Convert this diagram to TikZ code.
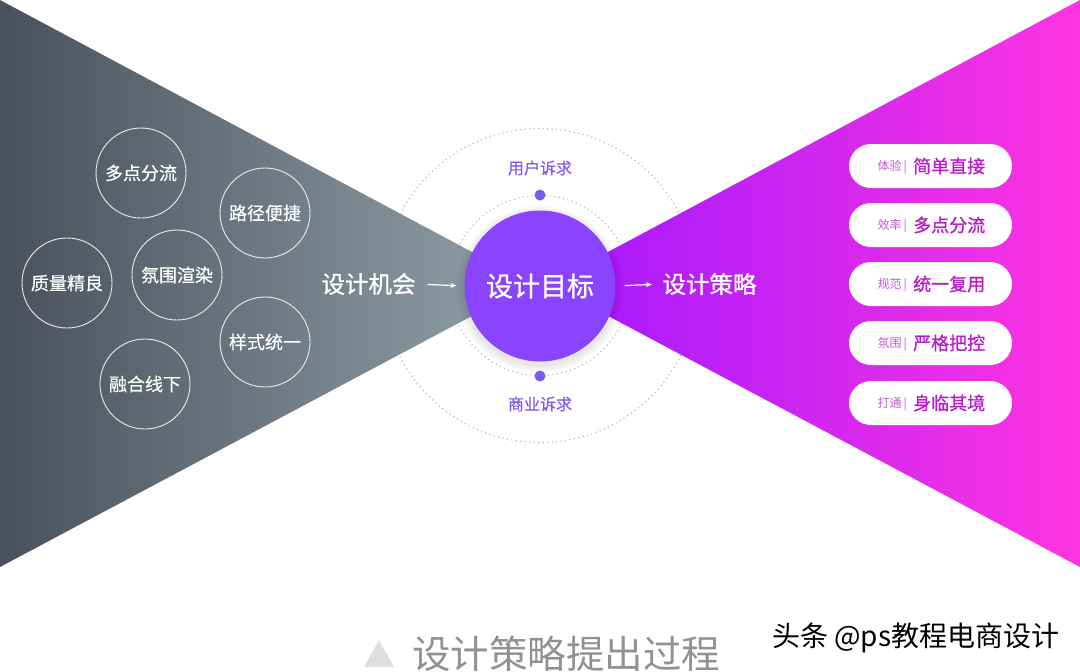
\documentclass[tikz,border=0pt]{standalone}
\usepackage{fontspec}
\setmainfont{Noto Sans CJK SC}
\newfontfamily\medf[FakeBold=0.35]{Noto Sans CJK SC}
\newfontfamily\headf[FakeBold=0.9]{Noto Sans CJK SC}
\usetikzlibrary{arrows.meta}
\definecolor{purp}{HTML}{8A44FF}
\definecolor{dotc}{HTML}{7E5BEF}
\definecolor{ringc}{HTML}{B4B4C8}
\definecolor{magb}{HTML}{B81CCA}
\definecolor{mags}{HTML}{C25AD2}
\definecolor{grayl}{RGB}{74,80,92}
\definecolor{grayr}{RGB}{146,162,170}
\definecolor{magl}{RGB}{160,24,255}
\definecolor{magr}{RGB}{255,52,224}
\tikzset{
  idea/.style={circle,draw=white!85!gray,line width=0.9pt,minimum size=90pt,inner sep=0pt,text=white,font=\fontsize{18}{18}\selectfont\medf},
  ring/.style={draw=ringc,line width=1.1pt,dash pattern=on 1.2pt off 3.3pt},
  pill/.style={rounded corners=22pt,fill=white,minimum width=163pt,minimum height=44pt,inner sep=0pt},
  head/.style={text=white,font=\fontsize{23.5}{24}\selectfont\headf,inner sep=0pt},
  ask/.style={text=dotc,font=\fontsize{16}{16}\selectfont\medf,inner sep=0pt},
  dotn/.style={circle,fill=dotc,minimum size=11pt,inner sep=0pt},
  arr/.style={draw=white,line width=1.2pt,-{Stealth[length=6pt,width=5pt]}},
  small/.style={text=mags,font=\fontsize{12}{12}\selectfont,inner sep=0pt,anchor=east},
  big/.style={text=magb,font=\fontsize{18}{18}\selectfont\headf,inner sep=0pt,anchor=west}
}
\newcommand{\pillrow}[4]{%
  \node[pill] (#1) at (930.5,#2) {};
  \node[small] (#1s) at (907,#2+0.8) {#3\,|};
  \node[big] (#1b) at (913,#2) {#4};
}
\begin{document}
\begin{tikzpicture}[x=1pt,y=-1pt]
\useasboundingbox (0,0) rectangle (1080,672);
\fill[white] (0,0) rectangle (1080,672);
% rings behind the triangles
\node[circle,ring,minimum size=314pt,inner sep=0pt] (outer) at (540,285.5) {};
\node[circle,ring,minimum size=180pt,inner sep=0pt] (inner) at (540,285.5) {};
% triangles
\shade[left color=grayl,right color=grayr] (0,0) -- (532,284) -- (0,567) -- cycle;
\shade[left color=magl,right color=magr] (1080,0) -- (548,284) -- (1080,567) -- cycle;
% shadow and hub
\foreach \r in {84,83,82,81,80,79,78,77}
  \fill[black,opacity=0.01] (540,289) circle (\r);
\node[circle,fill=purp,minimum size=151pt,inner sep=0pt,text=white,font=\fontsize{27}{27}\selectfont\headf] (goal) at (540,286) {设计目标};
% dots and their labels
\node[dotn] (d1) at (540,195) {};
\node[dotn] (d2) at (540,376) {};
\node[ask] (user) at (540,168) {用户诉求};
\node[ask] (biz) at (540,404) {商业诉求};
% left ideas
\node[idea] (a1) at (141,173) {多点分流};
\node[idea] (a2) at (265,213) {路径便捷};
\node[idea] (a3) at (177,275) {氛围渲染};
\node[idea] (a4) at (67,283) {质量精良};
\node[idea] (a5) at (265,342) {样式统一};
\node[idea] (a6) at (145,384) {融合线下};
% headings and arrows
\node[head] (chance) at (368.5,284) {设计机会};
\node[head] (strategy) at (709.5,284) {设计策略};
\draw[arr,shorten <=12pt,shorten >=8pt] (chance.east) -- (goal.west);
\draw[arr,shorten <=9pt,shorten >=10.5pt] (goal.east) -- (strategy.west);
% pills
\pillrow{p1}{166}{体验}{简单直接}
\pillrow{p2}{225}{效率}{多点分流}
\pillrow{p3}{284}{规范}{统一复用}
\pillrow{p4}{343}{氛围}{严格把控}
\pillrow{p5}{403}{打通}{身临其境}
% caption
\fill[black!13] (379,640) -- (394,667) -- (364,667) -- cycle;
\node[text=black!43,font=\fontsize{38.5}{39}\selectfont,inner sep=0pt,anchor=west] (cap) at (412,654) {设计策略提出过程};
% watermark
\node[text=white,font=\fontsize{28}{28}\selectfont,inner sep=0pt,anchor=west] (wm2) at (773.5,639.5) {头条 @ps教程电商设计};
\node[text=black,font=\fontsize{28}{28}\selectfont,inner sep=0pt,anchor=west] (wm) at (772,638) {头条 @ps教程电商设计};
\end{tikzpicture}
\end{document}
